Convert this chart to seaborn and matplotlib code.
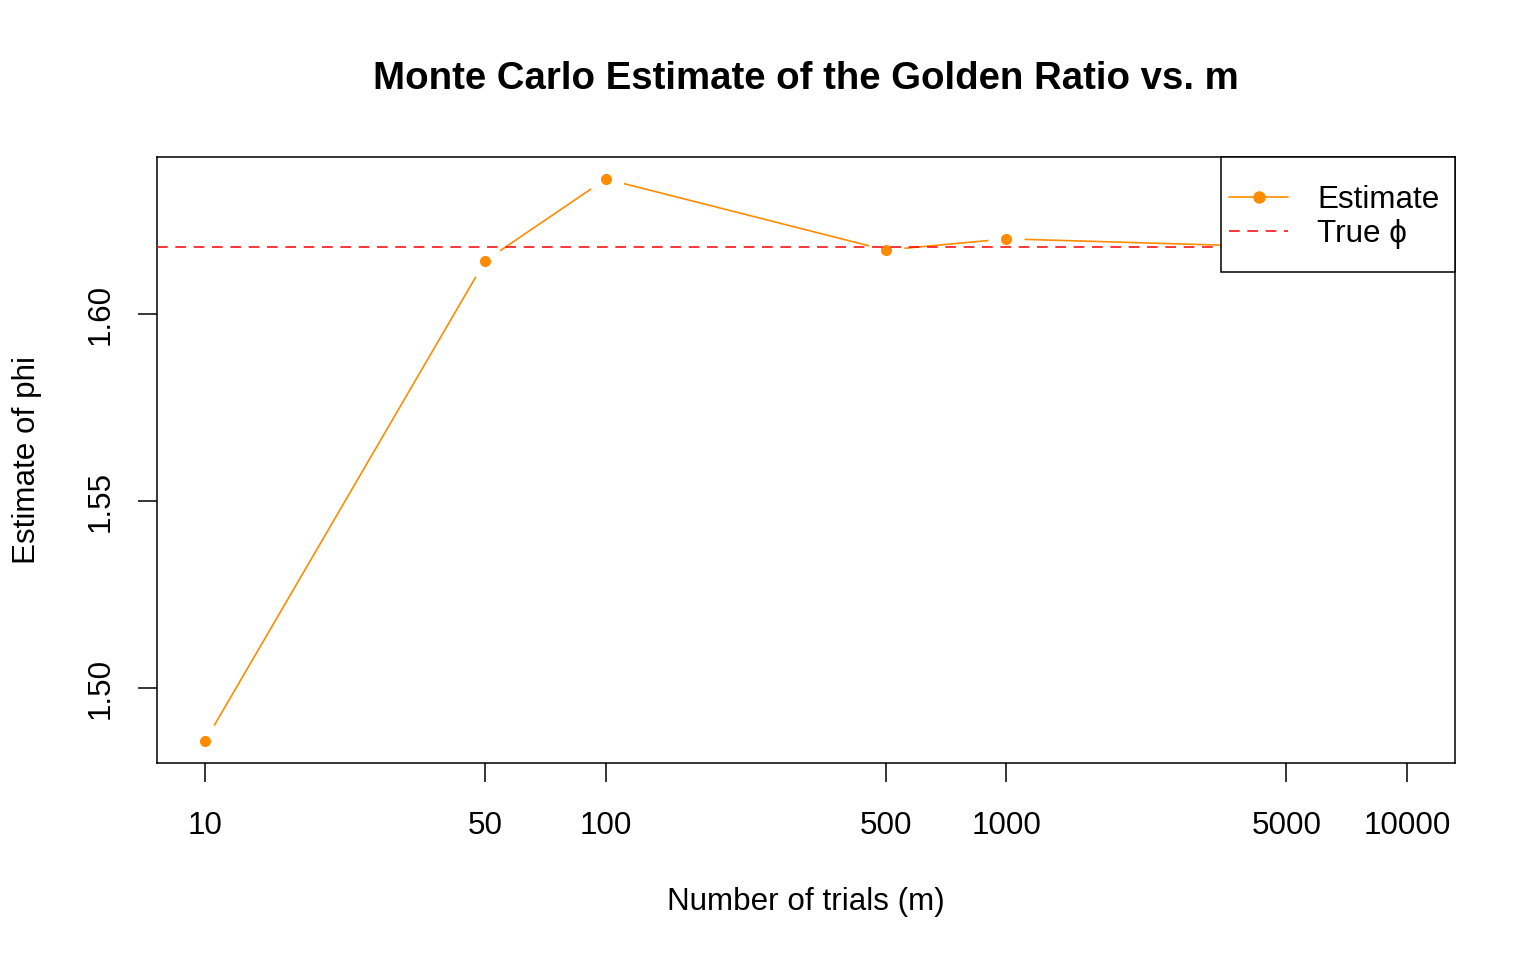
import numpy as np
import matplotlib
matplotlib.use('Agg')
import matplotlib.pyplot as plt
from matplotlib.lines import Line2D
from matplotlib.patches import Rectangle
from matplotlib.ticker import FixedLocator, FixedFormatter, NullLocator
import seaborn as sns

# data
m_values = [10, 50, 100, 500, 1000, 5000, 10000]
estimates = [1.4858, 1.6142, 1.6361, 1.6171, 1.6201, 1.6179, 1.6183]
true_phi = (1 + 5 ** 0.5) / 2
x_tick_labels = ['10', '50', '100', '500', '1000', '5000', '10000']
y_ticks = [1.50, 1.55, 1.60]

line_col = '#FF8C00'

sns.set_style('white')
plt.rcParams['font.family'] = ['Liberation Sans', 'DejaVu Sans']
plt.rcParams['text.color'] = 'black'
plt.rcParams['axes.labelcolor'] = 'black'

W, H = 1536, 960
L, R, T, B = 157, 1455, 157, 763  # plot box in pixels

fig = plt.figure(figsize=(W / 100, H / 100), dpi=100)
ax = fig.add_axes([L / W, 1 - B / H, (R - L) / W, (B - T) / H])

# R type="b": line with gaps around the points
sns.lineplot(x=m_values, y=estimates, color=line_col, linewidth=1.2, ax=ax, zorder=2)
sns.scatterplot(x=m_values, y=estimates, color='white', s=26 ** 2, linewidth=0, ax=ax, zorder=3)
sns.scatterplot(x=m_values, y=estimates, color=line_col, s=8 ** 2, linewidth=0, ax=ax, zorder=4)
ax.axhline(true_phi, color='red', linewidth=1.1, dashes=(7, 5), zorder=5)

ax.set_xscale('log')
ax.set_xlim(10 ** 0.88, 10 ** 4.12)
ax.set_ylim(1.47995, 1.64198)
ax.xaxis.set_major_locator(FixedLocator(m_values))
ax.xaxis.set_major_formatter(FixedFormatter(x_tick_labels))
ax.xaxis.set_minor_locator(NullLocator())
ax.set_yticks(y_ticks)
ax.set_yticklabels([f'{v:.2f}' for v in y_ticks])

fs = 22.6
ax.tick_params(axis='both', which='major', direction='out', length=13.7, width=1.1,
               color='black', labelsize=fs, labelcolor='black', left=True, bottom=True)
ax.tick_params(axis='x', pad=20.5)
ax.tick_params(axis='y', pad=16)
plt.setp(ax.get_yticklabels(), rotation=90, va='center')

for sp in ax.spines.values():
    sp.set_visible(True)
    sp.set_color('black')
    sp.set_linewidth(1.1)

ax.set_xlabel('Number of trials (m)', fontsize=fs, color='black')
ax.set_ylabel('Estimate of phi', fontsize=fs, color='black')
ax.xaxis.set_label_coords(0.5, (B - 887) / (B - T))
ax.yaxis.set_label_coords((42 - L) / (R - L), 0.5)

fig.text((L + R) / 2 / W, 1 - 89 / H, 'Monte Carlo Estimate of the Golden Ratio vs. m',
         ha='center', va='baseline', fontsize=27.6, fontweight='bold', color='black')

# legend box like R's (white, square, over the data)
box = Rectangle(((1221 - L) / (R - L), (B - 272) / (B - T)), (R - 1221) / (R - L), 115 / (B - T),
                transform=ax.transAxes, facecolor='white', edgecolor='black',
                linewidth=1.1, zorder=9, clip_on=False)
ax.add_patch(box)

handles = [
    Line2D([], [], color=line_col, linewidth=1.2, marker='o', markersize=8),
    Line2D([], [], color='red', linewidth=1.1, dashes=(7, 5)),
]
leg = ax.legend(handles, ['Estimate', 'True \u03d5'], loc='upper left',
                bbox_to_anchor=((1229 - L) / (R - L), (B - 185) / (B - T)),
                fontsize=fs, frameon=False, borderaxespad=0, borderpad=0,
                handlelength=1.88, handletextpad=0.92, labelspacing=0.13)
leg.set_zorder(10)

fig.savefig('out.png', dpi=100)
